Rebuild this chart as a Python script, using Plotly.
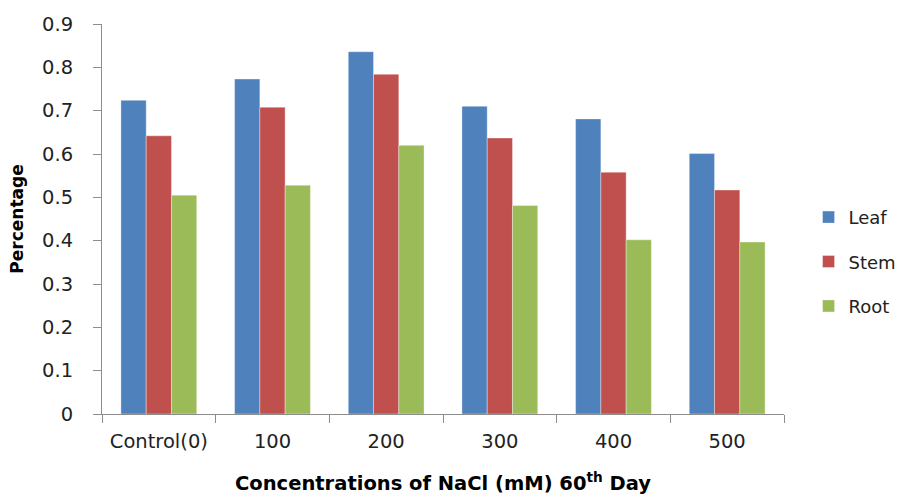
import plotly.graph_objects as go

categories = ["Control(0)", "100", "200", "300", "400", "500"]
leaf = [0.724, 0.773, 0.836, 0.710, 0.681, 0.601]
stem = [0.642, 0.708, 0.784, 0.637, 0.558, 0.517]
root = [0.505, 0.528, 0.620, 0.481, 0.402, 0.397]
y_ticks = [0, 0.1, 0.2, 0.3, 0.4, 0.5, 0.6, 0.7, 0.8, 0.9]
y_tick_text = ["0", "0.1", "0.2", "0.3", "0.4", "0.5", "0.6", "0.7", "0.8", "0.9"]

series = [
    ("Leaf", leaf, "#4F81BD"),
    ("Stem", stem, "#C0504D"),
    ("Root", root, "#9BBB59"),
]

fig = go.Figure()
for name, vals, color in series:
    fig.add_trace(go.Bar(
        x=categories, y=vals, name=name, legendgroup=name,
        marker=dict(color=color, line=dict(width=0.6, color="rgba(255,255,255,0.6)")),
    ))

axis_font = dict(family="DejaVu Sans", size=19.5, color="#222222")

fig.update_layout(
    width=905, height=495,
    margin=dict(l=102, r=121, t=24, b=81, autoexpand=False),
    paper_bgcolor="white", plot_bgcolor="white",
    barmode="group", bargap=0.333, bargroupgap=0,
    showlegend=True,
    legend=dict(
        x=1.036, y=0.39, xanchor="left", yanchor="middle",
        font=dict(family="DejaVu Sans", size=18, color="#222222"),
        traceorder="grouped", tracegroupgap=18,
        bgcolor="rgba(0,0,0,0)",
    ),
    xaxis=dict(
        showgrid=False, showline=True, linecolor="#8c8c8c", linewidth=1,
        ticks="outside", ticklen=8, tickcolor="#8c8c8c", tickson="boundaries",
        tickfont=axis_font, ticklabelstandoff=10,
        title=dict(text="Concentrations of NaCl (mM) 60<sup>th</sup> Day",
                   font=dict(family="DejaVu Sans", size=19.5, color="#000000", weight="bold"),
                   standoff=24),
        automargin=False,
    ),
    yaxis=dict(
        range=[0, 0.9], tickvals=y_ticks, ticktext=y_tick_text,
        showgrid=False, zeroline=False, showline=True, linecolor="#8c8c8c", linewidth=1,
        ticks="outside", ticklen=8, tickcolor="#8c8c8c",
        tickfont=axis_font, ticklabelstandoff=16,
        title=dict(text="Percentage",
                   font=dict(family="DejaVu Sans", size=17, color="#000000", weight="bold"),
                   standoff=14),
        automargin=False,
    ),
)

fig.write_html("out.html")
